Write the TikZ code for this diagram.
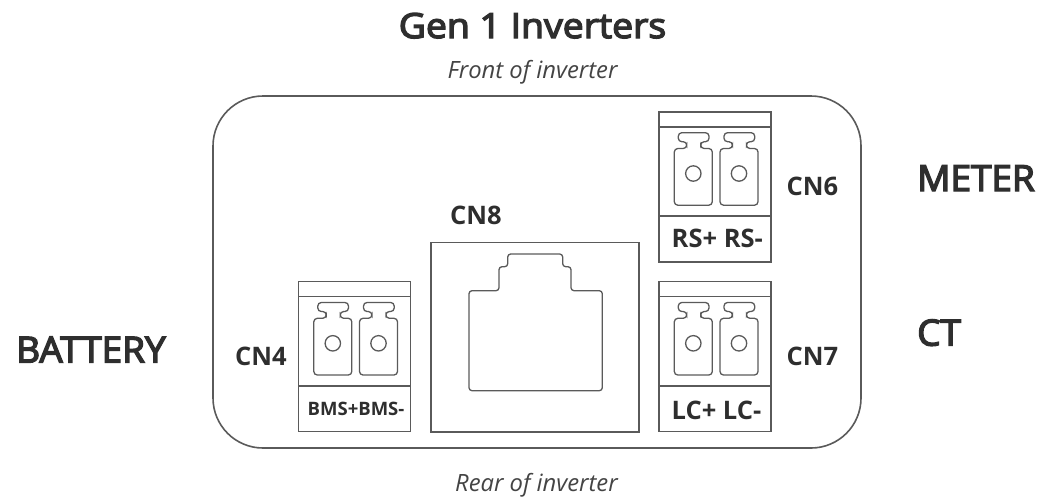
\documentclass[tikz,border=0pt]{standalone}
\usepackage{fontspec}
\setmainfont{Open Sans}
\newfontfamily\semib[FakeBold=4,FakeStretch=1.08]{Open Sans}
\newfontfamily\semic[FakeBold=4,FakeStretch=1.025]{Open Sans}
\definecolor{ink}{HTML}{2E2E2E}
\definecolor{soft}{HTML}{444444}
\definecolor{edge}{HTML}{5A5A5A}
\tikzset{
  x=1pt,y=-1pt,
  shell/.style={draw=edge,line width=1.6pt},
  part/.style={draw=edge,line width=1.6pt},
  pin/.style={draw=edge,line width=1.3pt,rounded corners=3.5pt},
  head/.style={text=ink,font=\semib\fontsize{34.6}{36}\selectfont,inner sep=0pt,anchor=base},
  label/.style={text=ink,font=\bfseries\fontsize{25.5}{28}\selectfont,inner sep=0pt,anchor=base},
  small/.style={text=ink,font=\bfseries\fontsize{18.5}{20}\selectfont,inner sep=0pt,anchor=base},
  side/.style={text=ink,font=\semic\fontsize{36}{38}\selectfont,inner sep=0pt,anchor=base west},
  note/.style={text=soft,font=\itshape\fontsize{23.8}{26}\selectfont,inner sep=0pt,anchor=base},
  pins/.pic={
    \draw[part] (0,0) rectangle (112,150);
    \draw[part] (0,15) -- (112,15) (0,104.5) -- (112,104.5);
    \foreach \d in {0,45.7}{
      \begin{scope}[xshift=\d pt]
      \draw[pin] (15.3,93.5) -- (15.3,36.8) -- (27.7,36.8) -- (27.7,30) -- (19.3,30) -- (19.3,21) -- (50,21) -- (50,30) -- (41.7,30) -- (41.7,36.8) -- (53.3,36.8) -- (53.3,93.5) -- cycle;
      \draw[draw=edge,line width=1.3pt] (34.3,61.8) circle (7.7);
      \end{scope}
    }
  }
}
\begin{document}
\begin{tikzpicture}
\useasboundingbox (0,0) rectangle (1064,499);
\draw[shell,rounded corners=50pt] (213,96) rectangle (861,448);
\draw[part] (431,242.3) rectangle (639,431.7);
\draw[draw=edge,line width=1.3pt,rounded corners=3pt] (469,390.7) -- (469,290.7) -- (499,290.7) -- (499,266.7) -- (507.7,266.7) -- (507.7,254) -- (562.7,254) -- (562.7,266.7) -- (571,266.7) -- (571,290.7) -- (602.3,290.7) -- (602.3,390.7) -- cycle;
\pic at (659,111.7) {pins};
\pic at (659,281.5) {pins};
\pic at (298.5,281.5) {pins};
\node[head] (title) at (532.5,38) {Gen 1 Inverters};
\node[note] (front) at (532.5,78) {Front of inverter};
\node[note] (rear) at (536.5,491) {Rear of inverter};
\node[side] (meter) at (917,191) {METER};
\node[side] (ct) at (917,345.5) {CT};
\node[side] (battery) at (16,362.5) {BATTERY};
\node[label] (cn8) at (476,224) {CN8};
\node[label] (cn6) at (812.5,195.5) {CN6};
\node[label] (cn7) at (812.5,365.5) {CN7};
\node[label] (cn4) at (261,365.5) {CN4};
\node[label] (rs) at (717.3,247) {RS+ RS-};
\node[label] (lc) at (716.5,419.5) {LC+ LC-};
\node[small] (bms) at (356,415.5) {BMS+BMS-};
\end{tikzpicture}
\end{document}
